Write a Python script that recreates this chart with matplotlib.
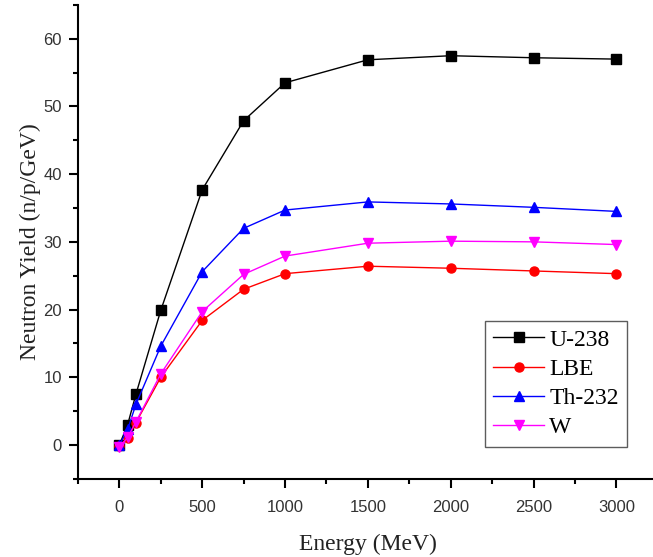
import matplotlib
matplotlib.use('Agg')
import matplotlib.pyplot as plt
from matplotlib.ticker import MultipleLocator

# proton energy (MeV) and neutron yield per proton per GeV
energy = [0, 50, 100, 250, 500, 750, 1000, 1500, 2000, 2500, 3000]
u238 = [0.0, 3.0, 7.5, 19.9, 37.7, 47.9, 53.5, 56.9, 57.5, 57.2, 57.0]
lbe = [-0.2, 1.0, 3.3, 10.0, 18.4, 23.0, 25.3, 26.4, 26.1, 25.7, 25.3]
th232 = [0.0, 2.3, 6.0, 14.6, 25.6, 32.0, 34.7, 35.9, 35.6, 35.1, 34.5]
tungsten = [-0.3, 1.1, 3.4, 10.5, 19.7, 25.2, 27.9, 29.8, 30.1, 30.0, 29.6]

SERIES = [
    ('U-238', u238, 'black', 's'),
    ('LBE', lbe, 'red', 'o'),
    ('Th-232', th232, 'blue', '^'),
    ('W', tungsten, 'magenta', 'v'),
]

plt.rcParams['font.family'] = ['Liberation Sans', 'DejaVu Sans']
SERIF = ['Liberation Serif', 'DejaVu Serif']

fig = plt.figure(figsize=(6.53, 5.57), dpi=100)
ax = fig.add_axes([0.1194, 0.1405, 0.888, 0.8506])

for label, vals, color, marker in SERIES:
    ax.plot(energy, vals, color=color, marker=marker, markersize=6.5,
            linewidth=1.0, label=label)

ax.set_xlim(-250, 3250)
ax.set_ylim(-5, 65)
ax.xaxis.set_major_locator(MultipleLocator(500))
ax.xaxis.set_minor_locator(MultipleLocator(250))
ax.yaxis.set_major_locator(MultipleLocator(10))
ax.yaxis.set_minor_locator(MultipleLocator(5))

for side in ('top', 'right'):
    ax.spines[side].set_visible(False)
for side in ('left', 'bottom'):
    ax.spines[side].set_linewidth(1.5)
ax.tick_params(which='major', direction='out', length=6.5, width=1.5,
               labelsize=12, colors='black')
ax.tick_params(axis='x', which='major', pad=9)
ax.tick_params(axis='y', which='major', pad=5)
ax.tick_params(which='minor', direction='out', length=3.5, width=1.5)
for lbl in ax.get_xticklabels() + ax.get_yticklabels():
    lbl.set_color('#333333')

ax.set_xlabel('Energy (MeV)', family=SERIF, fontsize=17, color='#222222',
              labelpad=13)
ax.set_ylabel('Neutron Yield (n/p/GeV)', family=SERIF, fontsize=17,
              color='#222222', labelpad=2)

leg = ax.legend(loc='lower right', bbox_to_anchor=(0.9466, 0.0675),
                borderaxespad=0, prop={'family': SERIF, 'size': 17},
                frameon=True, fancybox=False, edgecolor='#333333',
                handlelength=2.16, handletextpad=0.2, labelspacing=0.33,
                borderpad=0.35)
leg.get_frame().set_linewidth(1.0)

fig.savefig('out.png', dpi=100, facecolor='white')
